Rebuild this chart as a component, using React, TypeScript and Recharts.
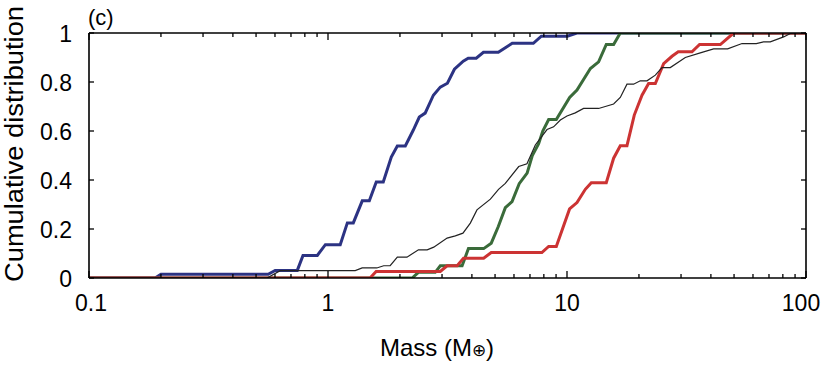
import React from 'react';
import { LineChart, Line, XAxis, YAxis } from 'recharts';

const FONT = '"Liberation Sans", Arial, Helvetica, sans-serif';

// Axis ticks
const xMajorTicks = [0.1, 1, 10, 100];
const xMinorTicks = [0.2, 0.3, 0.4, 0.5, 0.6, 0.7, 0.8, 0.9, 2, 3, 4, 5, 6, 7, 8, 9, 20, 30, 40, 50, 60, 70, 80, 90];
const xTickLabels = ['0.1', '1', '10', '100'];
const xLabelNudge = [2, 0, 0, -5];
const yTicks = [0, 0.2, 0.4, 0.6, 0.8, 1];
const yTickLabels = ['0', '0.2', '0.4', '0.6', '0.8', '1'];

// Series: mass (Earth masses) and cumulative fraction
const blueMass = [0.1, 0.189, 0.2, 0.562, 0.601, 0.744, 0.786, 0.902, 0.975, 1.125, 1.205, 1.276, 1.391, 1.489, 1.592, 1.703, 1.84, 1.95, 2.106, 2.275, 2.41, 2.55, 2.76, 2.95, 3.16, 3.38, 3.68, 3.86, 4.17, 4.47, 5.16, 5.9, 7.23, 7.81, 10.03, 11.0, 100];
const blueCdf = [0, 0, 0.015, 0.015, 0.031, 0.031, 0.092, 0.092, 0.136, 0.136, 0.225, 0.225, 0.315, 0.315, 0.392, 0.392, 0.494, 0.539, 0.539, 0.604, 0.657, 0.673, 0.746, 0.779, 0.795, 0.852, 0.885, 0.897, 0.897, 0.921, 0.921, 0.958, 0.958, 0.987, 0.987, 1, 1];

const greenMass = [0.1, 2.25, 2.39, 2.81, 2.95, 3.64, 3.87, 4.48, 4.82, 5.16, 5.52, 5.89, 6.31, 6.81, 7.16, 7.61, 7.92, 8.38, 9.02, 10.26, 11.01, 12.53, 13.56, 14.6, 15.67, 16.71, 100];
const greenCdf = [0, 0, 0.023, 0.023, 0.05, 0.05, 0.12, 0.12, 0.142, 0.21, 0.287, 0.312, 0.385, 0.428, 0.5, 0.548, 0.6, 0.647, 0.647, 0.737, 0.767, 0.855, 0.882, 0.953, 0.953, 1, 1];

const redMass = [0.1, 1.5, 1.59, 2.95, 3.15, 3.47, 3.69, 4.48, 4.82, 7.85, 8.38, 9.02, 10.25, 11.01, 11.93, 12.64, 14.6, 15.67, 16.71, 17.82, 19.12, 20.6, 21.95, 23.42, 25.37, 27.5, 29.2, 33.34, 35.87, 43.8, 49.8, 100];
const redCdf = [0, 0, 0.027, 0.027, 0.05, 0.05, 0.081, 0.081, 0.104, 0.104, 0.129, 0.129, 0.282, 0.308, 0.362, 0.389, 0.389, 0.489, 0.54, 0.54, 0.665, 0.746, 0.794, 0.794, 0.875, 0.905, 0.923, 0.923, 0.953, 0.953, 1, 1];

const blackMass = [0.1, 0.556, 0.631, 1.3, 1.39, 1.6, 1.71, 1.82, 1.95, 2.14, 2.39, 2.6, 2.77, 3.15, 3.41, 3.67, 3.94, 4.2, 4.78, 5.17, 5.52, 6.28, 6.8, 7.37, 8.25, 8.79, 9.38, 10.0, 10.83, 11.73, 13.56, 15.67, 16.71, 17.82, 18.99, 20.26, 21.61, 23.42, 24.98, 27.05, 31.26, 36.12, 41.06, 46.99, 53.99, 61.95, 66.45, 70.89, 80.6, 86.0, 91.7, 100];
const blackCdf = [0, 0, 0.03, 0.03, 0.041, 0.041, 0.05, 0.05, 0.085, 0.085, 0.115, 0.115, 0.126, 0.163, 0.172, 0.183, 0.224, 0.278, 0.322, 0.362, 0.386, 0.455, 0.466, 0.543, 0.606, 0.617, 0.645, 0.661, 0.674, 0.692, 0.692, 0.71, 0.737, 0.791, 0.791, 0.805, 0.805, 0.828, 0.859, 0.859, 0.9, 0.919, 0.935, 0.935, 0.957, 0.957, 0.964, 0.964, 0.984, 0.998, 1, 1];

const toPts = (m: number[], c: number[]) => m.map((x, i) => ({ x, y: c[i] }));
const blueData = toPts(blueMass, blueCdf);
const greenData = toPts(greenMass, greenCdf);
const redData = toPts(redMass, redCdf);
const blackData = toPts(blackMass, blackCdf);

const allXTicks = [...xMajorTicks, ...xMinorTicks].sort((a, b) => a - b);

const isMajor = (v: number) => xMajorTicks.some((m) => Math.abs(m - v) < 1e-9);

const BottomTick = (props: any) => {
  const { x, y, payload } = props;
  const idx = xMajorTicks.findIndex((m) => Math.abs(m - payload.value) < 1e-9);
  const major = idx >= 0;
  const len = major ? 7 : 4;
  return (
    <g>
      <path d={`M${x},${y}L${x},${y - len}`} stroke="#000" strokeWidth={1.3} fill="none" />
      {major && (
        <text x={x + xLabelNudge[idx]} y={y + 33} textAnchor="middle" fontSize={23} fontFamily={FONT} fill="#000" stroke="none">
          {xTickLabels[idx]}
        </text>
      )}
    </g>
  );
};

const TopTick = (props: any) => {
  const { x, y, payload } = props;
  const len = isMajor(payload.value) ? 7 : 4;
  return <path d={`M${x},${y}L${x},${y + len}`} stroke="#000" strokeWidth={1.3} fill="none" />;
};

const LeftTick = (props: any) => {
  const { x, y, payload } = props;
  const idx = yTicks.findIndex((t) => Math.abs(t - payload.value) < 1e-9);
  return (
    <g>
      <path d={`M${x},${y}L${x + 5},${y}`} stroke="#000" strokeWidth={1.3} fill="none" />
      <text x={x - 17} y={y + 9} textAnchor="end" fontSize={23} fontFamily={FONT} fill="#000" stroke="none">
        {yTickLabels[idx]}
      </text>
    </g>
  );
};

const RightTick = (props: any) => {
  const { x, y } = props;
  return <path d={`M${x},${y}L${x - 5},${y}`} stroke="#000" strokeWidth={1.3} fill="none" />;
};

export default function App() {
  return (
    <div style={{ position: 'absolute', left: 0, top: 0, width: 822, height: 392, background: '#fff' }}>
      <LineChart width={822} height={392} margin={{ top: 32, right: 15, bottom: 0, left: 0 }}>
        <XAxis
          dataKey="x"
          type="number"
          scale="log"
          domain={[0.1, 100]}
          allowDataOverflow
          ticks={allXTicks}
          interval={0}
          tickSize={0}
          tickMargin={0}
          tickLine={false}
          tick={<BottomTick />}
          height={114}
          axisLine={{ stroke: '#000', strokeWidth: 1.6 }}
          label={{
            content: () => (
              <text x={437} y={356} textAnchor="middle" fontSize={24} fontFamily={FONT} fill="#000">
                Mass (M<tspan fontSize={17}>⊕</tspan>)
              </text>
            ),
          }}
        />
        <XAxis
          xAxisId="top"
          orientation="top"
          dataKey="x"
          type="number"
          scale="log"
          domain={[0.1, 100]}
          allowDataOverflow
          ticks={allXTicks}
          interval={0}
          tickSize={0}
          tickMargin={0}
          tickLine={false}
          tick={<TopTick />}
          height={1}
          axisLine={{ stroke: '#000', strokeWidth: 1.6 }}
        />
        <YAxis
          type="number"
          domain={[0, 1]}
          allowDataOverflow
          ticks={yTicks}
          interval={0}
          tickSize={0}
          tickMargin={0}
          tickLine={false}
          tick={<LeftTick />}
          width={89}
          axisLine={{ stroke: '#000', strokeWidth: 1.6 }}
          label={{
            content: () => (
              <g>
                <text
                  x={0}
                  y={0}
                  transform="translate(23,144) rotate(-90)"
                  textAnchor="middle"
                  fontSize={25}
                  textLength={276}
                  lengthAdjust="spacingAndGlyphs"
                  fontFamily={FONT}
                  fill="#000"
                >
                  Cumulative distribution
                </text>
                <text x={88} y={25} textAnchor="start" fontSize={22} fontFamily={FONT} fill="#000">
                  (c)
                </text>
              </g>
            ),
          }}
        />
        <YAxis
          yAxisId="right"
          orientation="right"
          type="number"
          domain={[0, 1]}
          allowDataOverflow
          ticks={yTicks}
          interval={0}
          tickSize={0}
          tickMargin={0}
          tickLine={false}
          tick={<RightTick />}
          width={1}
          axisLine={{ stroke: '#000', strokeWidth: 1.6 }}
        />
        <Line data={blueData} dataKey="y" type="linear" stroke="#2c3383" strokeWidth={3} dot={false} isAnimationActive={false} />
        <Line data={greenData} dataKey="y" type="linear" stroke="#3a6b3a" strokeWidth={3} dot={false} isAnimationActive={false} />
        <Line data={redData} dataKey="y" type="linear" stroke="#cc3333" strokeWidth={3} dot={false} isAnimationActive={false} />
        <Line data={blackData} dataKey="y" type="linear" stroke="#222" strokeWidth={1.2} dot={false} isAnimationActive={false} />
      </LineChart>
    </div>
  );
}
